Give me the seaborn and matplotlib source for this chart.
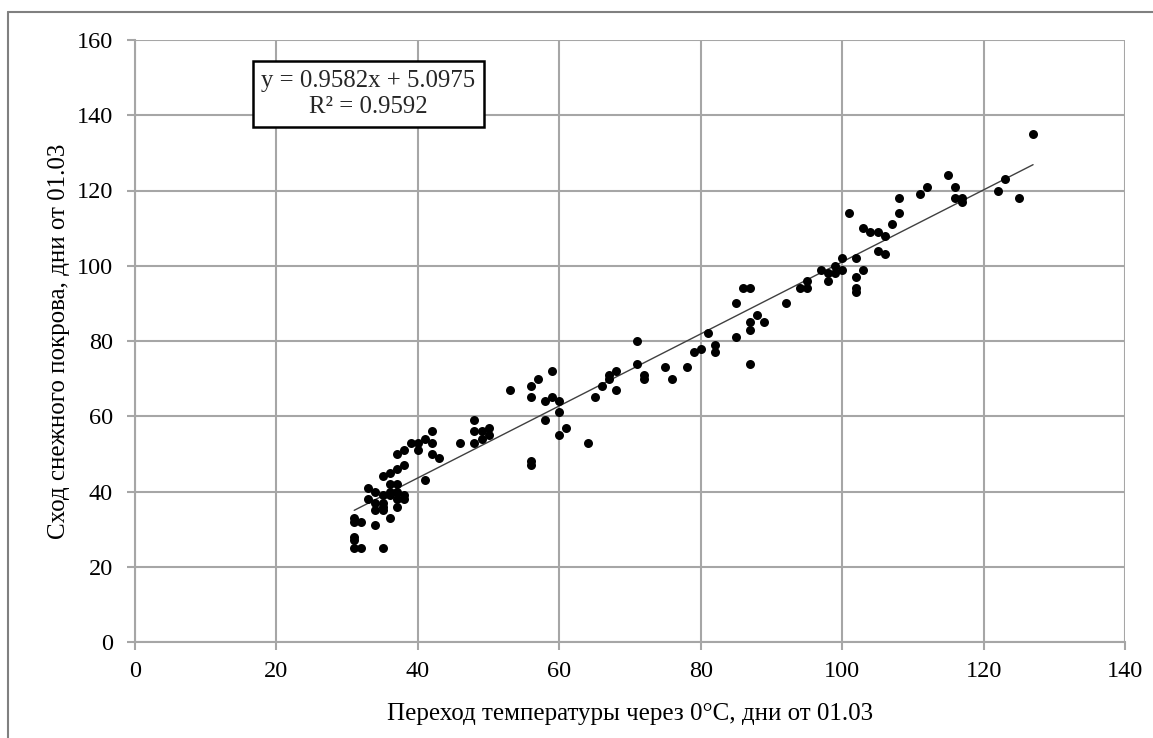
import numpy as np
import pandas as pd
import seaborn as sns
import matplotlib.pyplot as plt
from matplotlib.patches import Rectangle
from matplotlib.lines import Line2D

# transition of air temperature through 0°C, days from 01.03
temp_days = [31, 31, 31, 31, 31, 32, 32, 35, 34, 36, 33, 33, 34, 34, 34, 35, 35, 35, 35, 35,
             36, 36, 36, 36, 37, 37, 37, 37, 38, 37, 38, 38, 37, 38, 39, 40, 40, 41, 42, 42,
             42, 43, 41, 46, 48, 48, 48, 49, 49, 50, 50, 53, 56, 56, 57, 56, 56, 59, 58, 59,
             60, 60, 58, 61, 60, 64, 65, 66, 67, 67, 68, 68, 71, 71,
             72, 72, 75, 76, 78, 79, 80, 81, 82, 82, 85, 85, 86, 87, 87, 87, 88, 89, 87, 92,
             94, 95, 95, 97, 98, 98, 99, 99, 100, 100, 101, 102, 102, 102, 102, 103, 103, 104,
             105, 106, 105, 106, 107, 108, 108, 111, 112, 115, 116, 116, 117, 117,
             122, 123, 125, 127]
# snow cover melt, days from 01.03
snow_days = [33, 32, 28, 27, 25, 32, 25, 25, 31, 33, 41, 38, 40, 37, 35, 39, 44, 37, 35, 36,
             45, 42, 40, 39, 42, 40, 38, 46, 47, 36, 39, 38, 50, 51, 53, 53, 51, 54, 56, 53,
             50, 49, 43, 53, 59, 56, 53, 56, 54, 57, 55, 67, 68, 65, 70, 48, 47, 72, 64, 65,
             64, 61, 59, 57, 55, 53, 65, 68, 71, 70, 72, 67, 80, 74,
             71, 70, 73, 70, 73, 77, 78, 82, 79, 77, 90, 81, 94, 94, 85, 83, 87, 85, 74, 90,
             94, 94, 96, 99, 98, 96, 100, 98, 102, 99, 114, 102, 97, 94, 93, 99, 110, 109,
             109, 108, 104, 103, 111, 114, 118, 119, 121, 124, 121, 118, 118, 117,
             120, 123, 118, 135]

x_ticks = list(range(0, 141, 20))
y_ticks = list(range(0, 161, 20))
eq_text = "y = 0.9582x + 5.0975\nR² = 0.9592"
x_label = "Переход температуры через 0°С, дни от 01.03"
y_label = "Сход снежного покрова, дни от 01.03"

df = pd.DataFrame({"t": temp_days, "s": snow_days})

sns.set_theme(style="white")
plt.rcParams['font.family'] = ['Liberation Serif', 'DejaVu Serif']

fig = plt.figure(figsize=(11.53, 7.38), dpi=100)
W, H = 1153, 738
ax = fig.add_axes([135 / W, 1 - 642 / H, (1125 - 135) / W, (642 - 40) / H])

grid_c = "#a6a6a6"
sns.regplot(data=df, x="t", y="s", ax=ax, ci=None, truncate=True,
            scatter_kws=dict(color="black", s=42, alpha=1, linewidths=0, zorder=3),
            line_kws=dict(color="#404040", lw=1.0, zorder=2))

ax.set_xlim(0, 140)
ax.set_ylim(0, 160)
ax.set_xticks(x_ticks)
ax.set_yticks(y_ticks)
ax.grid(True, color=grid_c, lw=1.5, zorder=0)
ax.set_axisbelow(True)
for side in ["top", "right"]:
    ax.spines[side].set_visible(False)
for side in ["left", "bottom"]:
    ax.spines[side].set_color(grid_c)
    ax.spines[side].set_linewidth(1.5)
ax.tick_params(axis="both", which="both", direction="out", length=5.8, width=1.5,
               color=grid_c, labelsize=17.5, labelcolor="black")
ax.tick_params(axis="x", pad=8)
ax.tick_params(axis="y", pad=10)
ax.tick_params(left=True, bottom=True)

ax.set_xlabel(x_label, fontsize=18, color="black", labelpad=15)
ax.set_ylabel(y_label, fontsize=18, color="black", labelpad=5)

# equation box
ax.add_patch(Rectangle((16.7, 137.0), 32.7, 17.3, facecolor="white", edgecolor="black",
                       lw=1.8, zorder=4))
ax.text(33.0, 145.6, eq_text, ha="center", va="center", fontsize=17.8,
        linespacing=1.25, zorder=5)

# outer chart-area border
fig.add_artist(Line2D([8 / W, 8 / W], [0, 1 - 12 / H], color="#808080", lw=1.5))
fig.add_artist(Line2D([8 / W, 1], [1 - 12 / H, 1 - 12 / H], color="#808080", lw=1.5))

fig.savefig("out.png", dpi=100)
